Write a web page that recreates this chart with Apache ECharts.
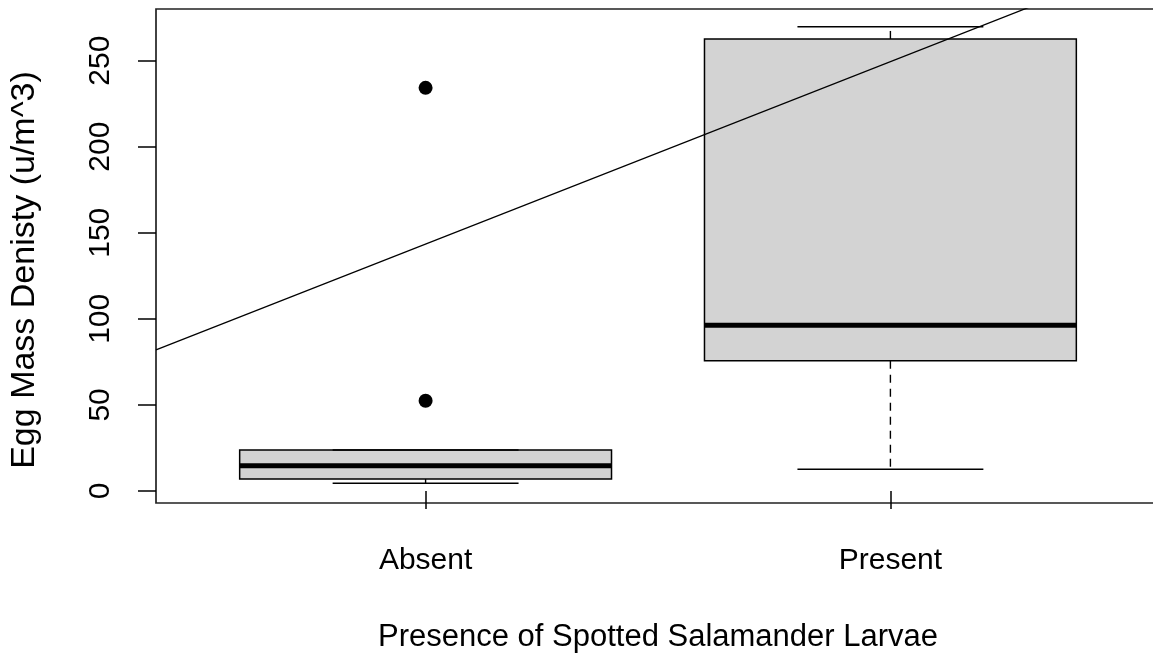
<!DOCTYPE html>
<html>
<head>
<meta charset="utf-8">
<script src="https://cdn.jsdelivr.net/npm/echarts@6/dist/echarts.min.js"></script>
<style>
  html, body { margin: 0; padding: 0; background: #fff; }
  #chart { width: 1153px; height: 654px; }
</style>
</head>
<body>
<div id="chart"></div>
<script>
// Egg mass density by presence of spotted salamander larvae
const categories = ['Absent', 'Present'];
const categoryPositions = [1, 2];
const whiskerLow = [4.5, 12.6];
const quartile1 = [7.0, 75.6];
const medians = [14.7, 96.3];
const quartile3 = [23.8, 262.6];
const whiskerHigh = [23.8, 269.7];
const outlierGroup = [1, 1];
const outlierValues = [234.2, 52.4];
const yTicks = [0, 50, 100, 150, 200, 250];
// fitted line y = a + b * x
const trendIntercept = 37.4;
const trendSlope = 106.0;
const xRange = [0.42, 2.58];
const yRange = [-7, 280];

const FONT = 'Liberation Sans, Arial, sans-serif';
const boxData = categoryPositions.map((p, i) =>
  [p, whiskerLow[i], quartile1[i], medians[i], quartile3[i], whiskerHigh[i]]);
const outlierData = outlierGroup.map((g, i) => [g, outlierValues[i]]);
const trendData = xRange.map(x => [x, trendIntercept + trendSlope * x]);

function renderBox(params, api) {
  const x = api.value(0);
  const pLow = api.coord([x, api.value(1)]);
  const pQ1 = api.coord([x, api.value(2)]);
  const pMed = api.coord([x, api.value(3)]);
  const pQ3 = api.coord([x, api.value(4)]);
  const pHigh = api.coord([x, api.value(5)]);
  const boxW = api.size([0.8, 0])[0];
  const capW = boxW / 2;
  const cx = pMed[0];
  const dashed = { stroke: '#000', lineWidth: 1.4, lineDash: [8, 6] };
  const solid = { stroke: '#000', lineWidth: 1.5 };
  return {
    type: 'group',
    children: [
      { type: 'line', shape: { x1: cx, y1: pQ1[1], x2: cx, y2: pLow[1] }, style: dashed },
      { type: 'line', shape: { x1: cx, y1: pQ3[1], x2: cx, y2: pHigh[1] }, style: dashed },
      { type: 'rect', shape: { x: cx - boxW / 2, y: pQ3[1], width: boxW, height: pQ1[1] - pQ3[1] },
        style: { fill: '#d3d3d3', stroke: '#000', lineWidth: 1.5 } },
      { type: 'line', shape: { x1: cx - boxW / 2, y1: pMed[1], x2: cx + boxW / 2, y2: pMed[1] },
        style: { stroke: '#000', lineWidth: 5 } },
      { type: 'line', shape: { x1: cx - capW / 2, y1: pLow[1], x2: cx + capW / 2, y2: pLow[1] }, style: solid },
      { type: 'line', shape: { x1: cx - capW / 2, y1: pHigh[1], x2: cx + capW / 2, y2: pHigh[1] }, style: solid }
    ]
  };
}

const chart = echarts.init(document.getElementById('chart'), null, { renderer: 'canvas' });
chart.setOption({
  animation: false,
  backgroundColor: '#fff',
  grid: {
    left: 156, top: 9, width: 1004, height: 494,
    outerBoundsMode: 'none', containLabel: false,
    show: true, borderColor: '#222', borderWidth: 1.7, backgroundColor: 'transparent'
  },
  xAxis: {
    type: 'value', min: xRange[0], max: xRange[1],
    axisLine: { show: false },
    splitLine: { show: false },
    axisTick: { show: true, customValues: categoryPositions, length: 18, lineStyle: { color: '#000', width: 1.5 } },
    axisLabel: {
      customValues: categoryPositions,
      formatter: v => categories[categoryPositions.indexOf(Math.round(v))],
      fontSize: 30, color: '#000', fontFamily: FONT, margin: 43
    },
    name: 'Presence of Spotted Salamander Larvae',
    nameLocation: 'middle', nameGap: 119,
    nameTextStyle: { fontSize: 31, color: '#000', fontFamily: FONT }
  },
  yAxis: {
    type: 'value', min: yRange[0], max: yRange[1],
    axisLine: { show: false },
    splitLine: { show: false },
    axisTick: { show: true, customValues: yTicks, length: 18, lineStyle: { color: '#000', width: 1.5 } },
    axisLabel: {
      customValues: yTicks, rotate: 90,
      fontSize: 30, color: '#000', fontFamily: FONT, margin: 40
    },
    name: 'Egg Mass Denisty (u/m^3)',
    nameLocation: 'middle', nameGap: 114,
    nameTextStyle: { fontSize: 34, color: '#000', fontFamily: FONT, padding: [0, 28, 0, 0] }
  },
  series: [
    {
      type: 'custom', renderItem: renderBox, data: boxData,
      encode: { x: 0, y: [1, 2, 3, 4, 5] }, z: 2, silent: true
    },
    {
      type: 'scatter', data: outlierData, symbol: 'circle', symbolSize: 14,
      itemStyle: { color: '#000', opacity: 1 }, z: 3, silent: true
    },
    {
      type: 'line', data: trendData, showSymbol: false, clip: true,
      lineStyle: { color: '#000', width: 1.3 }, z: 4, silent: true
    }
  ]
});
</script>
</body>
</html>
